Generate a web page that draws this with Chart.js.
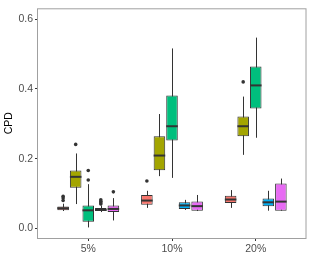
<!DOCTYPE html>
<html>
<head>
<meta charset="utf-8">
<script src="https://cdn.jsdelivr.net/npm/chart.js@4"></script>
<style>
  html, body { margin: 0; padding: 0; background: #fff; }
  #wrap { width: 311px; height: 259px; }
</style>
</head>
<body>
<div id="wrap"><canvas id="chart"></canvas></div>
<script>
const groups = ['5%', '10%', '20%'];
const yTicks = [0, 0.2, 0.4, 0.6];

// rows = the five series, columns = groups
const lower = [
  [0.050, 0.059, 0.059],
  [0.070, 0.150, 0.211],
  [0.003, 0.145, 0.260],
  [0.047, 0.053, 0.051],
  [0.023, 0.050, 0.051]
];
const q1 = [
  [0.052, 0.068, 0.073],
  [0.117, 0.167, 0.264],
  [0.019, 0.252, 0.344],
  [0.050, 0.056, 0.064],
  [0.047, 0.051, 0.051]
];
const median = [
  [0.058, 0.080, 0.083],
  [0.148, 0.209, 0.293],
  [0.052, 0.293, 0.410],
  [0.053, 0.066, 0.075],
  [0.056, 0.064, 0.077]
];
const q3 = [
  [0.063, 0.096, 0.094],
  [0.166, 0.264, 0.321],
  [0.066, 0.381, 0.464],
  [0.059, 0.075, 0.086],
  [0.066, 0.077, 0.129]
];
const upper = [
  [0.071, 0.108, 0.110],
  [0.215, 0.328, 0.378],
  [0.127, 0.516, 0.547],
  [0.066, 0.082, 0.108],
  [0.087, 0.096, 0.143]
];
const outliers = [
  [[0.080, 0.087, 0.092], [0.136], []],
  [[0.241], [], [0.420]],
  [[0.139, 0.166], [], []],
  [[0.070, 0.074, 0.078, 0.082], [], []],
  [[0.105], [], []]
];

const fills = ['#F8766D', '#A3A500', '#00BF7D', '#00B0F6', '#E76BF3'];
const ink = '#333333';
const font = { family: "'Liberation Sans', Arial, sans-serif", size: 10.5 };

const boxPlot = {
    id: 'boxPlot',
    beforeDatasetsDraw(chart) {
        const y = chart.scales.y, ctx = chart.ctx;
        ctx.save();
        ctx.strokeStyle = ink;
        ctx.lineWidth = 1;
        chart.data.datasets.forEach((ds, i) => {
            chart.getDatasetMeta(i).data.forEach((bar, j) => {
                const x = Math.round(bar.x) + 0.5;
                ctx.beginPath();
                ctx.moveTo(x, y.getPixelForValue(lower[i][j]));
                ctx.lineTo(x, y.getPixelForValue(upper[i][j]));
                ctx.stroke();
            });
        });
        ctx.restore();
    },
    afterDatasetsDraw(chart) {
        const y = chart.scales.y, ctx = chart.ctx;
        ctx.save();
        chart.data.datasets.forEach((ds, i) => {
            chart.getDatasetMeta(i).data.forEach((bar, j) => {
                const py = y.getPixelForValue(median[i][j]);
                ctx.strokeStyle = ink;
                ctx.lineWidth = 2;
                ctx.beginPath();
                ctx.moveTo(bar.x - bar.width / 2, py);
                ctx.lineTo(bar.x + bar.width / 2, py);
                ctx.stroke();
                ctx.fillStyle = ink;
                outliers[i][j].forEach(v => {
                    ctx.beginPath();
                    ctx.arc(bar.x, y.getPixelForValue(v), 1.8, 0, Math.PI * 2);
                    ctx.fill();
                });
            });
        });
        ctx.restore();
    },
    afterDraw(chart) {
        const a = chart.chartArea, ctx = chart.ctx;
        ctx.save();
        ctx.strokeStyle = '#a0a0a0';
        ctx.lineWidth = 1;
        ctx.strokeRect(a.left - 0.5, a.top + 0.5, a.right - a.left + 0.5, a.bottom - a.top);
        ctx.restore();
    }
};

new Chart(document.getElementById('chart'), {
    type: 'bar',
    data: {
        labels: groups,
        datasets: fills.map((c, i) => ({
            label: 's' + (i + 1),
            data: groups.map((g, j) => [q1[i][j], q3[i][j]]),
            backgroundColor: c,
            borderColor: ink,
            borderWidth: 1,
            borderSkipped: false,
            categoryPercentage: 0.75,
            barPercentage: 0.92
        }))
    },
    options: {
        responsive: true,
        maintainAspectRatio: false,
        animation: false,
        layout: { padding: { top: 4, right: 5, left: 0, bottom: 0 } },
        plugins: { legend: { display: false }, tooltip: { enabled: false } },
        scales: {
            x: {
                offset: true,
                grid: { display: true, drawOnChartArea: false, offset: false, tickLength: 3, color: ink },
                border: { display: false },
                ticks: { color: '#4d4d4d', font: font, padding: 2, maxRotation: 0 },
                afterBuildTicks: s => { s._startValue = -0.6; s._valueRange = 3.2; },
                afterFit: s => { s.height = 21; }
            },
            y: {
                min: -0.0273,
                max: 0.631,
                grid: { display: true, drawOnChartArea: false, tickLength: 3, color: ink },
                border: { display: false },
                ticks: {
                    color: '#4d4d4d',
                    font: font,
                    padding: 2,
                    callback: v => v.toFixed(1)
                },
                afterBuildTicks: s => { s.ticks = yTicks.map(v => ({ value: v })); },
                title: {
                    display: true,
                    text: 'CPD',
                    color: '#000',
                    font: font,
                    padding: { top: 3, bottom: 0 }
                },
                afterFit: s => { s.width = 38; }
            }
        }
    },
    plugins: [boxPlot]
});
</script>
</body>
</html>
